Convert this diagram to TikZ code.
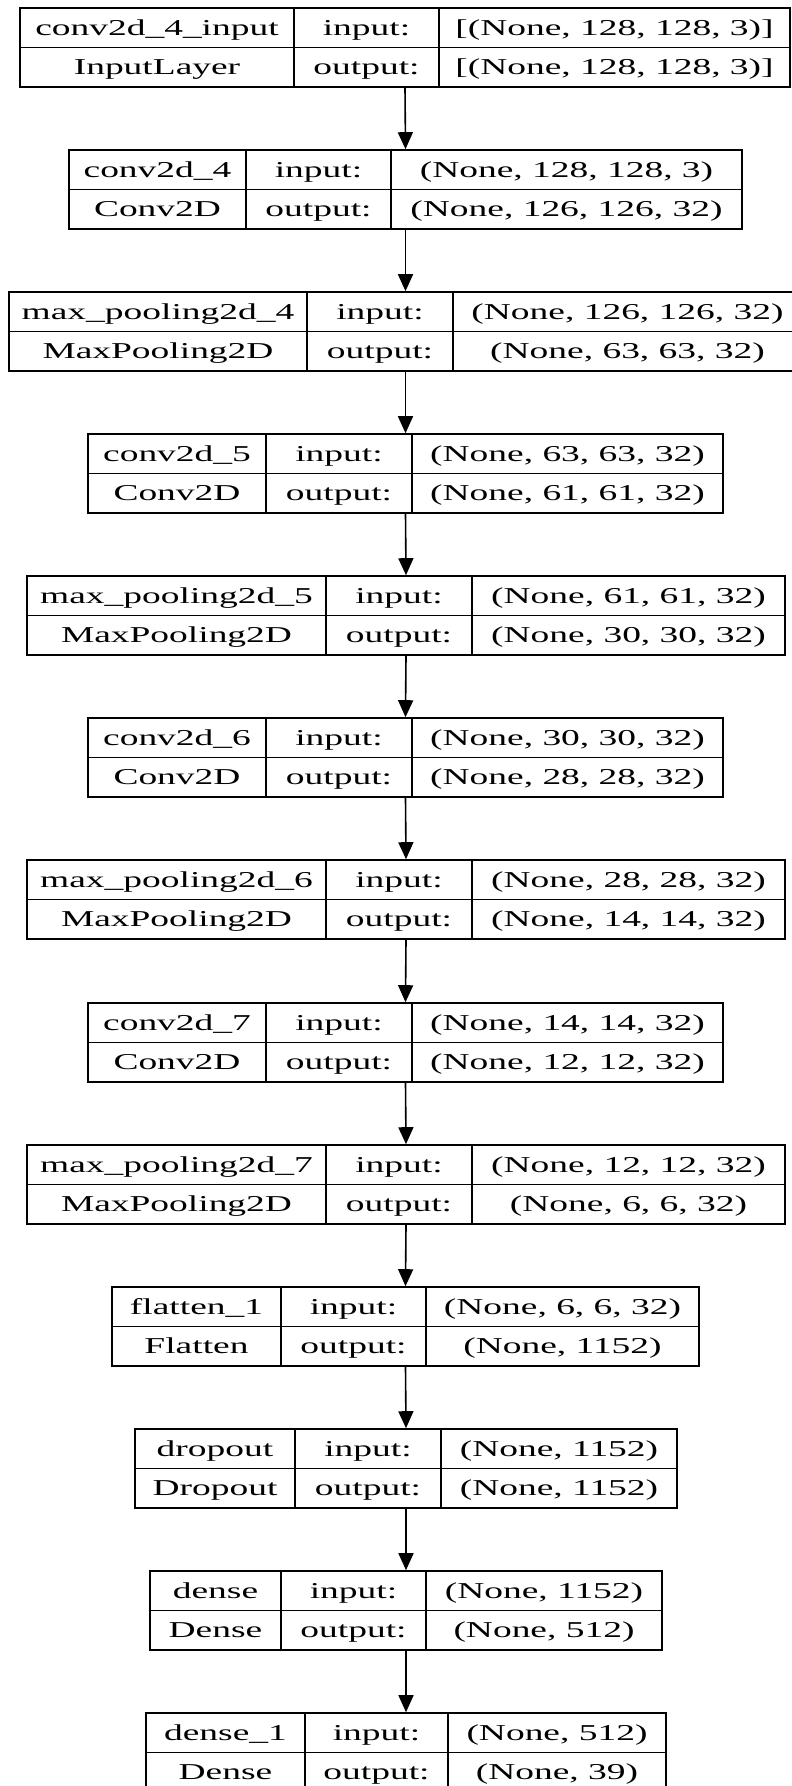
\documentclass[tikz,border=0pt]{standalone}
\usepackage{fontspec}
\setmainfont{Liberation Serif}
\usetikzlibrary{arrows.meta}
\tikzset{
	layerbox/.style={draw, line width=1.6pt, inner sep=0pt},
	celltext/.style={font=\fontsize{22.7}{26}\selectfont, xscale=1.65, inner sep=0pt, anchor=base},
	flow/.style={line width=1.6pt, -{Triangle[length=17pt, width=15pt]}}
}
\begin{document}
\begin{tikzpicture}[x=1pt, y=-1pt]
	\clip (0,0) rectangle (792,1786);
	\fill[white] (0,0) rectangle (792,1786);
	
	\foreach \n/\yt/\xl/\xa/\xb/\xr/\lname/\ltype/\shin/\shout in {
		1/8/20/294/439/790/conv2d\_4\_input/InputLayer/{[(None, 128, 128, 3)]}/{[(None, 128, 128, 3)]},
		2/150/69/246/391/742/conv2d\_4/Conv2D/{(None, 128, 128, 3)}/{(None, 126, 126, 32)},
		3/292/9/307/453/802/max\_pooling2d\_4/MaxPooling2D/{(None, 126, 126, 32)}/{(None, 63, 63, 32)},
		4/434/88/266/412/723/conv2d\_5/Conv2D/{(None, 63, 63, 32)}/{(None, 61, 61, 32)},
		5/576/27/326/472/785/max\_pooling2d\_5/MaxPooling2D/{(None, 61, 61, 32)}/{(None, 30, 30, 32)},
		6/718/88/266/412/723/conv2d\_6/Conv2D/{(None, 30, 30, 32)}/{(None, 28, 28, 32)},
		7/860/27/326/472/785/max\_pooling2d\_6/MaxPooling2D/{(None, 28, 28, 32)}/{(None, 14, 14, 32)},
		8/1003/88/266/412/723/conv2d\_7/Conv2D/{(None, 14, 14, 32)}/{(None, 12, 12, 32)},
		9/1145/27/326/472/785/max\_pooling2d\_7/MaxPooling2D/{(None, 12, 12, 32)}/{(None, 6, 6, 32)},
		10/1287/112/281/426/699/flatten\_1/Flatten/{(None, 6, 6, 32)}/{(None, 1152)},
		11/1429/135/295/441/677/dropout/Dropout/{(None, 1152)}/{(None, 1152)},
		12/1571/150/281/426/662/dense/Dense/{(None, 1152)}/{(None, 512)},
		13/1713/146/305/448/666/dense\_1/Dense/{(None, 512)}/{(None, 39)}} {
		\node[layerbox, minimum width={(\xr-\xl)*1pt}, minimum height=79pt] (l\n) at ({(\xl+\xr)/2}, \yt+39.5) {};
		\draw[line width=1.6pt] (l\n.west) -- (l\n.east);
		\draw[line width=1.6pt] (\xa,\yt) -- (\xa,\yt+79) (\xb,\yt) -- (\xb,\yt+79);
		\node[celltext] (name\n) at ({(\xl+\xa)/2}, \yt+27) {\lname};
		\node[celltext] (type\n) at ({(\xl+\xa)/2}, \yt+66.5) {\ltype};
		\node[celltext] (in\n) at ({(\xa+\xb)/2}, \yt+27) {input:};
		\node[celltext] (out\n) at ({(\xa+\xb)/2}, \yt+66.5) {output:};
		\node[celltext] (shin\n) at ({(\xb+\xr)/2}, \yt+27) {\shin};
		\node[celltext] (shout\n) at ({(\xb+\xr)/2}, \yt+66.5) {\shout};
	}
	
	\foreach \i [evaluate=\i as \j using int(\i+1)] in {1,...,12}
		\draw[flow] (l\i.south) -- (l\j.north);
\end{tikzpicture}
\end{document}
